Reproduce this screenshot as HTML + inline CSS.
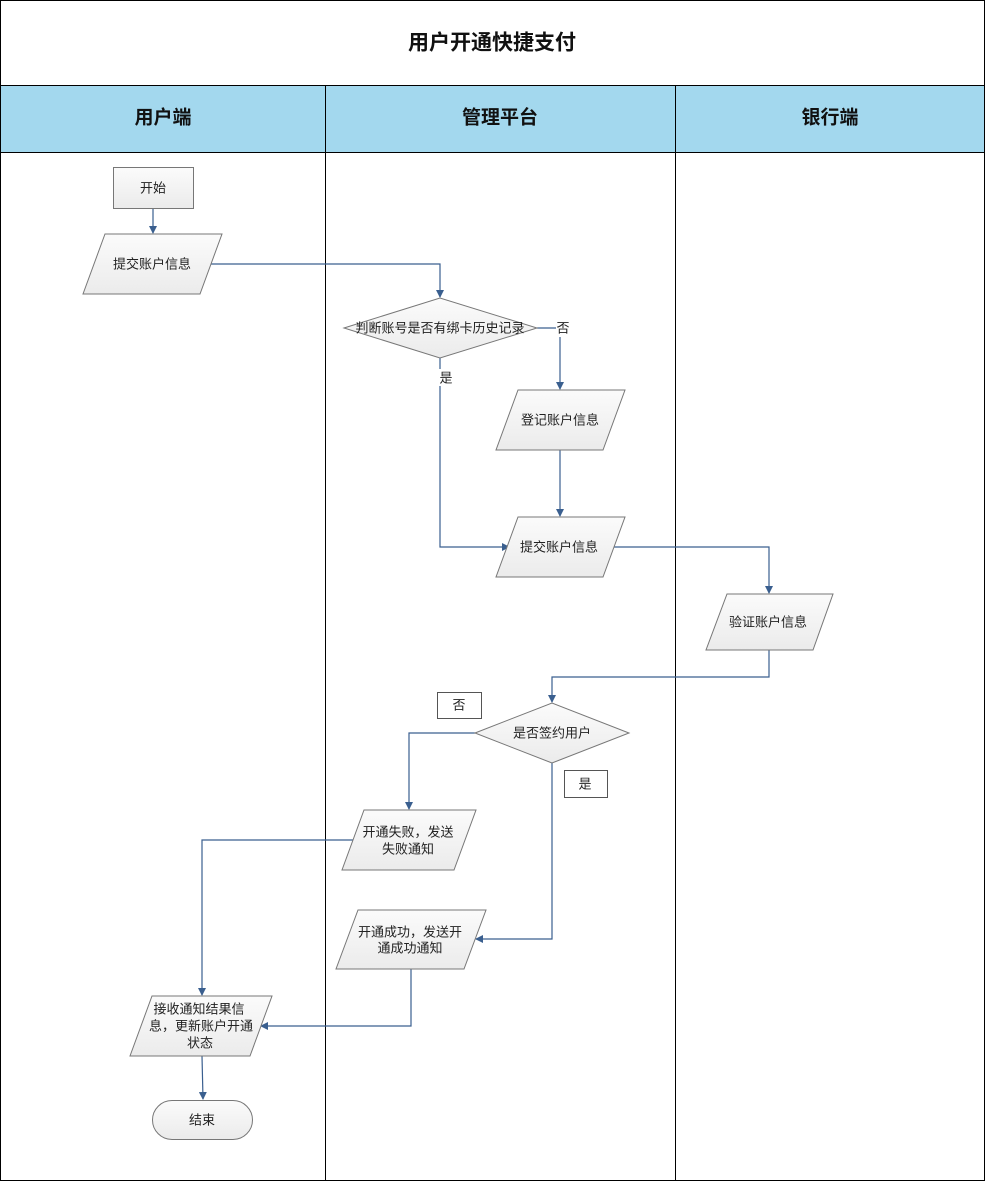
<!DOCTYPE html>
<html><head><meta charset="utf-8"><style>
html,body{margin:0;padding:0;background:#fff}
svg{display:block}
text{font-family:"Liberation Sans","Noto Sans CJK SC",sans-serif;fill:#222}
.s{fill:url(#g);stroke:#777;stroke-width:1}
.l{fill:none;stroke:#3a5f8f;stroke-width:1.2}
.t{font-size:13px;text-anchor:middle;dominant-baseline:central}
.h{font-size:19px;font-weight:bold;text-anchor:middle;dominant-baseline:central;fill:#111}
</style></head><body>
<svg width="985" height="1181" viewBox="0 0 985 1181">
<defs>
<linearGradient id="g" x1="0" y1="0" x2="0" y2="1"><stop offset="0" stop-color="#fbfbfb"/><stop offset="1" stop-color="#ebebeb"/></linearGradient>
<marker id="a" markerWidth="8" markerHeight="8" refX="7" refY="4" orient="auto" markerUnits="userSpaceOnUse"><path d="M0,0 L8,4 L0,8 Z" fill="#3a5f8f"/></marker>
</defs>
<rect x="0.5" y="0.5" width="984" height="1180" fill="#fff" stroke="#000"/>
<rect x="0.5" y="85.5" width="984" height="67" fill="#a3d8ee" stroke="#000"/>
<line x1="325.5" y1="85" x2="325.5" y2="1181" stroke="#000"/>
<line x1="675.5" y1="85" x2="675.5" y2="1181" stroke="#000"/>
<text class="h" x="492" y="43" style="font-size:21px">用户开通快捷支付</text>
<text class="h" x="163" y="118">用户端</text>
<text class="h" x="500" y="118">管理平台</text>
<text class="h" x="830" y="118">银行端</text>

<path class="l" d="M153,208 V233" marker-end="url(#a)"/>
<path class="l" d="M205,264 H440 V297" marker-end="url(#a)"/>
<path class="l" d="M537,328 H556"/>
<path class="l" d="M560,337 V389" marker-end="url(#a)"/>
<path class="l" d="M560,450 V516" marker-end="url(#a)"/>
<path class="l" d="M440,358 V369"/>
<path class="l" d="M440,386 V547 H509" marker-end="url(#a)"/>
<path class="l" d="M610,547 H769 V593" marker-end="url(#a)"/>
<path class="l" d="M769,650 V677 H552 V702" marker-end="url(#a)"/>
<path class="l" d="M475,733 H409 V809" marker-end="url(#a)"/>
<path class="l" d="M552,763 V939 H476" marker-end="url(#a)"/>
<path class="l" d="M353,840 H202 V995" marker-end="url(#a)"/>
<path class="l" d="M411,969 V1026 H261" marker-end="url(#a)"/>
<path class="l" d="M202,1056 L203,1099" marker-end="url(#a)"/>

<rect class="s" x="113.5" y="167.5" width="80" height="41"/>
<text class="t" x="153" y="188">开始</text>
<polygon class="s" points="105,234 222,234 200,294 83,294"/>
<text class="t" x="152" y="264">提交账户信息</text>
<polygon class="s" points="344,328 440,298 537,328 440,358"/>
<text class="t" x="440" y="328">判断账号是否有绑卡历史记录</text>
<text class="t" x="563" y="328">否</text>
<text class="t" x="446" y="378">是</text>
<polygon class="s" points="518,390 625,390 603,450 496,450"/>
<text class="t" x="560" y="420">登记账户信息</text>
<polygon class="s" points="518,517 625,517 603,577 496,577"/>
<text class="t" x="559" y="547">提交账户信息</text>
<polygon class="s" points="727,594 833,594 813,650 706,650"/>
<text class="t" x="768" y="622">验证账户信息</text>
<polygon class="s" points="475,733 552,703 629,733 552,763"/>
<text class="t" x="552" y="733">是否签约用户</text>
<rect x="437.5" y="692.5" width="44" height="26" fill="#fff" stroke="#555"/>
<text class="t" x="459" y="705">否</text>
<rect x="564.5" y="770.5" width="43" height="27" fill="#fff" stroke="#555"/>
<text class="t" x="585" y="784">是</text>
<polygon class="s" points="364,810 476,810 454,870 342,870"/>
<text class="t" x="408" y="832">开通失败，发送</text>
<text class="t" x="408" y="849">失败通知</text>
<polygon class="s" points="358,910 486,910 464,969 336,969"/>
<text class="t" x="410" y="932">开通成功，发送开</text>
<text class="t" x="410" y="948">通成功通知</text>
<polygon class="s" points="152,996 272,996 250,1056 130,1056"/>
<text class="t" x="199" y="1009">接收通知结果信</text>
<text class="t" x="201" y="1026">息，更新账户开通</text>
<text class="t" x="200" y="1043">状态</text>
<rect class="s" x="152.5" y="1100.5" width="100" height="39" rx="19.5"/>
<text class="t" x="202" y="1120">结束</text>
</svg>
</body></html>
